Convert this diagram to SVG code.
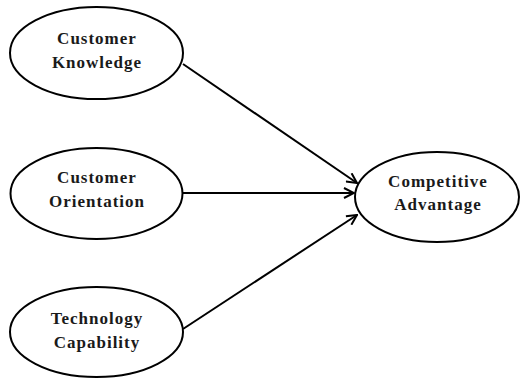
<svg xmlns="http://www.w3.org/2000/svg" width="521" height="378" viewBox="0 0 521 378">
<style>
.node ellipse{fill:#fff;stroke:#000;stroke-width:2}
.node text{font-family:"Liberation Serif","Times New Roman",serif;font-weight:bold;font-size:17px;letter-spacing:1px;text-anchor:middle;fill:#1a1a1a}
.conn line{stroke:#000;stroke-width:2;marker-end:url(#arr)}
</style>
<defs>
<marker id="arr" viewBox="0 0 12 12" refX="11" refY="6" markerWidth="12" markerHeight="12" markerUnits="userSpaceOnUse" orient="auto">
<path d="M1,1 L11,6 L1,11" fill="none" stroke="#000" stroke-width="2"/>
</marker>
</defs>
<rect width="521" height="378" fill="#fff"/>
<g class="conn">
<line x1="183" y1="64" x2="357" y2="183"/>
<line x1="183" y1="193" x2="354" y2="193"/>
<line x1="183" y1="329" x2="357" y2="215"/>
</g>
<g id="n1" class="node"><ellipse cx="96.5" cy="53" rx="86.5" ry="46"/><text x="97" y="44">Customer</text><text x="97" y="68">Knowledge</text></g>
<g id="n2" class="node"><ellipse cx="96.5" cy="193.5" rx="86" ry="45.5"/><text x="97" y="183">Customer</text><text x="97" y="207">Orientation</text></g>
<g id="n3" class="node"><ellipse cx="96.5" cy="332" rx="86.5" ry="45"/><text x="97" y="324">Technology</text><text x="97" y="348">Capability</text></g>
<g id="n4" class="node"><ellipse cx="437" cy="197" rx="82" ry="45"/><text x="438" y="187">Competitive</text><text x="438" y="210">Advantage</text></g>
</svg>
